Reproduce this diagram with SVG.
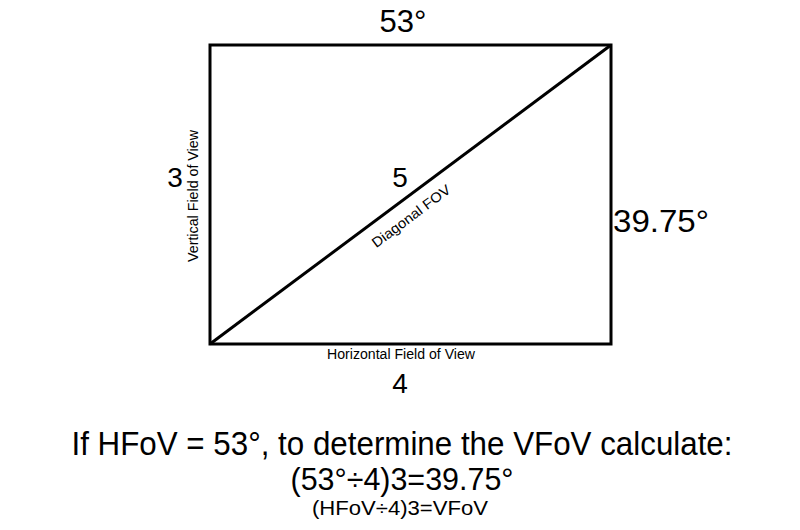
<svg xmlns="http://www.w3.org/2000/svg" width="800" height="530" viewBox="0 0 800 530">
<style>
text{font-family:"Liberation Sans",Arial,sans-serif;fill:#000;text-anchor:middle}
.big{font-size:31px}
.small{font-size:14px}
.line{stroke:#000;stroke-width:3;fill:none;stroke-linejoin:miter}
</style>
<rect width="800" height="530" fill="#fff"/>
<g id="frame">
<rect class="line" x="210" y="45" width="401" height="299"/>
</g>
<g id="connectors">
<line class="line" x1="210" y1="344" x2="611" y2="45"/>
</g>
<g id="labels">
<text class="big" x="403" y="32">53°</text>
<text class="big" x="661" y="232" textLength="96" lengthAdjust="spacingAndGlyphs">39.75°</text>
<text class="big" x="175" y="187" style="font-size:28px">3</text>
<text class="big" x="400" y="187" style="font-size:28px">5</text>
<text class="big" x="400" y="393" style="font-size:28px">4</text>
<text class="small" transform="translate(198,196) rotate(-90)" textLength="132" lengthAdjust="spacingAndGlyphs">Vertical Field of View</text>
<text class="small" x="401" y="359" textLength="148" lengthAdjust="spacingAndGlyphs">Horizontal Field of View</text>
<text class="small" transform="translate(414,220) rotate(-36.8)" textLength="94" lengthAdjust="spacingAndGlyphs">Diagonal FOV</text>
</g>
<g id="formula">
<text x="402" y="455" style="font-size:34px" textLength="661" lengthAdjust="spacingAndGlyphs">If HFoV = 53°, to determine the VFoV calculate:</text>
<text x="402" y="490" style="font-size:32px" textLength="223" lengthAdjust="spacingAndGlyphs">(53°÷4)3=39.75°</text>
<text x="400" y="515" style="font-size:20px" textLength="176" lengthAdjust="spacingAndGlyphs">(HFoV÷4)3=VFoV</text>
</g>
</svg>
